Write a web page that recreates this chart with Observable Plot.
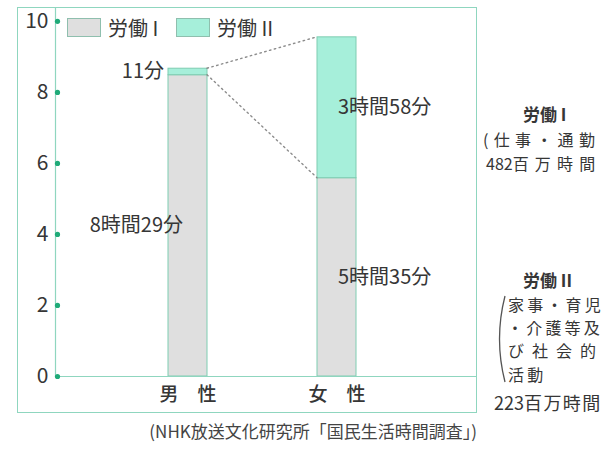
<!DOCTYPE html>
<html><head><meta charset="utf-8">
<script src="https://cdn.jsdelivr.net/npm/d3@7"></script>
<script src="https://cdn.jsdelivr.net/npm/@observablehq/plot@0.6"></script>
<style>
html,body{margin:0;padding:0;background:#fff;overflow:hidden;}
#wrap{position:relative;width:604px;height:451px;overflow:hidden;font-family:"Noto Sans CJK JP",sans-serif;color:#363636;}
#wrap svg{position:absolute;left:0;top:0;}
.abs{position:absolute;white-space:nowrap;line-height:1;}
.d{letter-spacing:0;}
#box{position:absolute;left:17px;top:7px;width:460px;height:406px;box-sizing:border-box;border:1px solid #8fd6bf;pointer-events:none;}
.sw{position:absolute;width:34px;height:19px;box-sizing:border-box;border:1px solid #8fbfae;}
</style></head><body><div id="wrap"></div>
<script>
const categories = ["男性", "女性"];
const seriesNames = ["労働 I", "労働 II"];
const labor1Minutes = [509, 335];   // 8時間29分, 5時間35分
const labor2Minutes = [11, 238];    // 11分, 3時間58分
const yTicks = [0, 2, 4, 6, 8, 10];
const seriesColors = ["#dfdfdf", "#a6efda"];
const captionText = "(NHK放送文化研究所「国民生活時間調査」)";

const fmt = m => (Math.floor(m / 60) > 0 ? Math.floor(m / 60) + "時間" : "") + (m % 60) + "分";

const rows = [];
categories.forEach((c, i) => {
  const a = labor1Minutes[i] / 60, b = labor2Minutes[i] / 60;
  rows.push({cat: c, series: seriesNames[0], minutes: labor1Minutes[i], y1: 0, y2: a, mid: a / 2});
  rows.push({cat: c, series: seriesNames[1], minutes: labor2Minutes[i], y1: a, y2: a + b, mid: a + b / 2});
});

const font = '"Noto Sans CJK JP",sans-serif';

const chart = Plot.plot({
  width: 604, height: 451,
  marginLeft: 55, marginRight: 127, marginTop: 7, marginBottom: 75,
  style: {fontFamily: font, fontSize: "20px", color: "#363636", background: "transparent"},
  x: {domain: categories, paddingInner: 0.738, paddingOuter: 0.785, align: 0.485},
  y: {domain: [0, 10.39]},
  color: {domain: seriesNames, range: seriesColors},
  marks: [
    Plot.barY(rows, {x: "cat", y1: "y1", y2: "y2", fill: "series", stroke: "#7fcdb2", strokeWidth: 1}),
    Plot.frame({anchor: "left", stroke: "#8fd6bf", strokeWidth: 1.2}),
    Plot.ruleY([0], {stroke: "#8fd6bf", strokeWidth: 1.2}),
    Plot.axisY(yTicks, {tickSize: 0, tickPadding: 7, label: null, fontSize: 21}),
    Plot.dot(yTicks, {y: d => d, frameAnchor: "left", dx: 2, r: 2.6, fill: "#1faa78", stroke: null}),
    Plot.axisX({tickSize: 0, tickPadding: 11, label: null, fontSize: 19, fontWeight: 500, tickFormat: d => d[0] + "\u3000" + d[1]}),
    Plot.text(rows.filter(d => d.cat === categories[0] && d.series === seriesNames[0]),
      {x: "cat", y: "mid", text: d => fmt(d.minutes), textAnchor: "end", dx: -5, fontSize: 20}),
    Plot.text(rows.filter(d => d.cat === categories[0] && d.series === seriesNames[1]),
      {x: "cat", y: "mid", text: d => fmt(d.minutes), textAnchor: "end", dx: -24, fontSize: 20}),
    Plot.text(rows.filter(d => d.cat === categories[1]),
      {x: "cat", y: "mid", text: d => fmt(d.minutes), textAnchor: "start", dx: 1, fontSize: 20})
  ]
});

// connector dotted lines between bars, from the scales
const xs = chart.scale("x"), ys = chart.scale("y");
const bw = xs.bandwidth;
const maleRight = xs.apply(categories[0]) + bw, femaleLeft = xs.apply(categories[1]);
const tot = i => (labor1Minutes[i] + labor2Minutes[i]) / 60;
const lines = [
  [maleRight, ys.apply(tot(0)), femaleLeft, ys.apply(tot(1))],
  [maleRight, ys.apply(labor1Minutes[0] / 60), femaleLeft, ys.apply(labor1Minutes[1] / 60)]
];
d3.select(chart).append("g").selectAll("line").data(lines).join("line")
  .attr("x1", d => d[0]).attr("y1", d => d[1]).attr("x2", d => d[2]).attr("y2", d => d[3])
  .attr("stroke", "#8c8c8c").attr("stroke-width", 1.4).attr("stroke-dasharray", "1.5,3.5").attr("stroke-linecap", "round");

const wrap = document.getElementById("wrap");
wrap.appendChild(chart);

const box = document.createElement("div"); box.id = "box"; wrap.appendChild(box);

function addDiv(html, style, cls = "abs") {
  const d = document.createElement("div"); d.className = cls; d.innerHTML = html;
  Object.assign(d.style, style); wrap.appendChild(d); return d;
}
// legend
addDiv("", {left: "67px", top: "18px", background: seriesColors[0]}, "sw");
addDiv(seriesNames[0], {left: "108px", top: "18px", fontSize: "20px"});
addDiv("", {left: "176px", top: "18px", background: seriesColors[1]}, "sw");
addDiv(seriesNames[1], {left: "217px", top: "18px", fontSize: "20px"});

// right side annotations
addDiv(seriesNames[0], {left: "523px", top: "105px", fontSize: "17px", fontWeight: "bold"});
addDiv("(仕事・通勤", {left: "483px", top: "131px", fontSize: "16px", letterSpacing: "5.3px"});
addDiv('<span class="d">482</span>百万時間', {left: "486px", top: "155px", fontSize: "16px", letterSpacing: "6.2px"});
addDiv(seriesNames[1], {left: "523px", top: "271px", fontSize: "17px", fontWeight: "bold"});
addDiv('家事・育児<br><span style="margin-left:-1px">・介護等及</span><br><span style="letter-spacing:8px">び社会的</span><br>活動',
  {left: "508px", top: "293px", fontSize: "16px", letterSpacing: "3.2px", lineHeight: "23.2px"});
addDiv('<span class="d">223</span>百万時間', {left: "494px", top: "393px", fontSize: "18px", letterSpacing: "1.4px"});
addDiv('<svg width="10" height="92"><path d="M8 2 Q-3 45 8 88" fill="none" stroke="#555" stroke-width="1.3"/></svg>',
  {left: "497px", top: "294px"});

// caption
addDiv(captionText, {right: "127px", top: "422px", fontSize: "17px", color: "#444"});
</script></body></html>
